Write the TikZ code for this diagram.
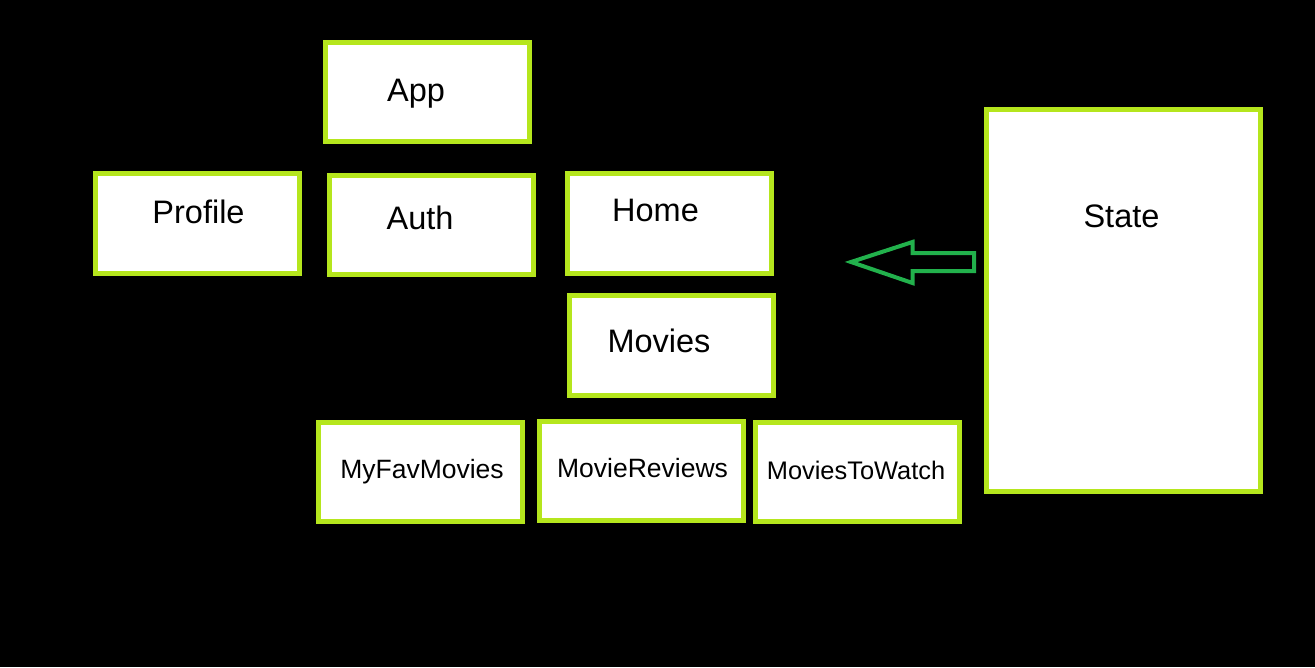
\documentclass[tikz,border=0pt]{standalone}
\usepackage{fontspec}
\setmainfont{Liberation Sans}
\definecolor{boxline}{HTML}{B5E61D}
\definecolor{arrowgreen}{HTML}{22B14C}
\begin{document}
\begin{tikzpicture}[x=1pt,y=-1pt,
  box/.style={draw=boxline, fill=white, line width=5pt, inner sep=0pt, outer sep=0pt},
  big/.style={anchor=base, inner sep=0pt, font=\fontsize{32.5}{38}\selectfont, text=black},
  small/.style={anchor=base, inner sep=0pt, font=\fontsize{26.5}{32}\selectfont, text=black}]
\useasboundingbox (0,0) rectangle (1315,667);
\fill[black] (0,0) rectangle (1315,667);
% boxes
\node[box, minimum width=204pt, minimum height=99pt]  (app)     at (427.5,92)   {};
\node[box, minimum width=204pt, minimum height=100pt] (profile) at (197.5,223.5) {};
\node[box, minimum width=204pt, minimum height=99pt]  (auth)    at (431.5,225)  {};
\node[box, minimum width=204pt, minimum height=100pt] (home)    at (669.5,223.5) {};
\node[box, minimum width=204pt, minimum height=100pt] (movies)  at (671.5,345.5) {};
\node[box, minimum width=204pt, minimum height=99pt]  (myfav)   at (420.5,472)  {};
\node[box, minimum width=204pt, minimum height=99pt]  (reviews) at (641.5,471)  {};
\node[box, minimum width=204pt, minimum height=99pt]  (towatch) at (857.5,472)  {};
\node[box, minimum width=274pt, minimum height=382pt] (state)   at (1123.5,300.5) {};
% labels
\node[big] (appt)     at (416,101)   {App};
\node[big] (profilet) at (198.5,223) {Profile};
\node[big] (autht)    at (420,229)   {Auth};
\node[big] (homet)    at (655.5,221) {Home};
\node[big] (moviest)  at (659,352)   {Movies};
\node[big] (statet)   at (1121.5,227) {State};
\node[small] (myfavt)   at (422,478)   {MyFavMovies};
\node[small] (reviewst) at (642.5,477) {MovieReviews};
\node[small, font=\fontsize{25.4}{30}\selectfont] (towatcht) at (856,479) {MoviesToWatch};
% arrow shape
\draw[arrowgreen, line width=4pt, line join=miter]
  (851,262) -- (912.5,242) -- (912.5,253) -- (974,253) -- (974,271)
  -- (912.5,271) -- (912.5,283) -- cycle;
\end{tikzpicture}
\end{document}
